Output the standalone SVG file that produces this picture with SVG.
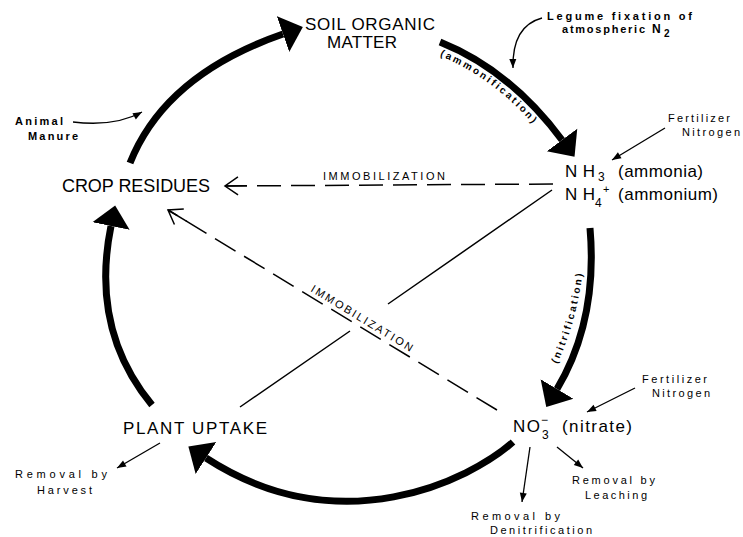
<svg xmlns="http://www.w3.org/2000/svg" width="743" height="537" viewBox="0 0 743 537">
<defs>
<style>
text { font-family: "Liberation Sans", Arial, sans-serif; fill: #000; }
.big { font-size: 17px; }
.sub { font-size: 12px; }
.sm { font-size: 11px; }
.smb { font-size: 11px; font-weight: bold; }
.im { font-size: 11px; }
.arclbl { font-size: 10px; font-weight: bold; }
.arc { fill: none; stroke: #000; stroke-width: 7; marker-end: url(#bigHead); }
.dash { fill: none; stroke: #000; stroke-width: 1.5; stroke-dasharray: 24 10; marker-end: url(#openHead); }
.thin { fill: none; stroke: #000; stroke-width: 1.3; marker-end: url(#smallHead); }
.solid { fill: none; stroke: #000; stroke-width: 1.5; }
</style>
<marker id="bigHead" markerUnits="userSpaceOnUse" viewBox="0 -20 24 40" markerWidth="24" markerHeight="40" refX="0" refY="0" orient="auto"><path d="M0,-19 L21,0 L0,19 Z" fill="#000"/></marker>
<marker id="openHead" markerUnits="userSpaceOnUse" viewBox="-24 -12 26 24" markerWidth="26" markerHeight="24" refX="0" refY="0" orient="auto"><path d="M-13,-9 L0,0 L-13,9 M0,0 L-22,0" fill="none" stroke="#000" stroke-width="1.5"/></marker>
<marker id="smallHead" markerUnits="userSpaceOnUse" viewBox="-10 -5 11 10" markerWidth="11" markerHeight="10" refX="0" refY="0" orient="auto"><path d="M-9,-3.5 L0,0 L-9,3.5 Z" fill="#000"/></marker>
<path id="ammPath" d="M435,54 Q503,80 552,148"/>
<path id="nitPath" d="M557,364 Q579,318 584,258"/>
</defs>

<g id="connectors">
  <path class="arc" d="M130,163 Q165,75 283,34"/>
  <path class="arc" d="M440,42 Q510,70 562,140"/>
  <path class="arc" d="M590,228 Q598,320 557,389"/>
  <path class="arc" d="M513,442 C470,480 340,545 206,458"/>
  <path class="arc" d="M152,405 Q90,330 111,226"/>
  <path class="dash" d="M553,184 L225,186"/>
  <path class="dash" d="M497,410 L168,210"/>
  <path class="solid" d="M552,190 L388,304 M350,331 L240,407"/>
  <text class="arclbl"><textPath href="#ammPath" startOffset="5" textLength="116" lengthAdjust="spacing">(ammonification)</textPath></text>
  <text class="arclbl"><textPath href="#nitPath" startOffset="0" textLength="94" lengthAdjust="spacing">(nitrification)</textPath></text>
  <text class="im" x="323" y="180" textLength="122" lengthAdjust="spacing">IMMOBILIZATION</text>
  <text class="im" transform="translate(310,291) rotate(31.3)" x="0" y="0" textLength="117" lengthAdjust="spacing">IMMOBILIZATION</text>
  <path class="thin" d="M73,122 Q115,127 142,112"/>
  <path class="thin" d="M542,18 Q512,26 513,68"/>
  <path class="thin" d="M665,128 L612,160"/>
  <path class="thin" d="M635,388 L587,412"/>
  <path class="thin" d="M557,447 L583,468"/>
  <path class="thin" d="M530,447 L522,502"/>
  <path class="thin" d="M160,443 L117,468"/>
</g>

<g id="soil-organic-matter">
  <text class="big" x="305" y="30" textLength="130" lengthAdjust="spacing">SOIL ORGANIC</text>
  <text class="big" x="327" y="48" textLength="70" lengthAdjust="spacing">MATTER</text>
</g>

<g id="ammonia">
  <text class="big" x="565" y="177" textLength="30" lengthAdjust="spacing">NH</text>
  <text class="sub" x="598" y="181">3</text>
  <text class="big" x="618" y="177" textLength="85" lengthAdjust="spacing">(ammonia)</text>
  <text class="big" x="565" y="200" textLength="30" lengthAdjust="spacing">NH</text>
  <text class="sub" x="595" y="207">4</text>
  <text class="sub" style="font-size:11px" x="603" y="193">+</text>
  <text class="big" x="618" y="200" textLength="100" lengthAdjust="spacing">(ammonium)</text>
</g>

<g id="nitrate">
  <text class="big" x="513" y="432" textLength="27" lengthAdjust="spacing">NO</text>
  <text class="sub" x="542" y="439">3</text>
  <text class="sub" x="541" y="424">−</text>
  <text class="big" x="562" y="432" textLength="70" lengthAdjust="spacing">(nitrate)</text>
</g>

<g id="plant-uptake">
  <text class="big" x="123" y="434" textLength="144" lengthAdjust="spacing">PLANT UPTAKE</text>
</g>

<g id="crop-residues">
  <text class="big" style="font-size:18px" x="62" y="192" textLength="148" lengthAdjust="spacing">CROP RESIDUES</text>
</g>

<g id="animal-manure">
  <text class="smb" x="15" y="125" textLength="48" lengthAdjust="spacing">Animal</text>
  <text class="smb" x="28" y="140" textLength="50" lengthAdjust="spacing">Manure</text>
</g>

<g id="legume-fixation">
  <text class="smb" x="547" y="20" textLength="145" lengthAdjust="spacing">Legume fixation of</text>
  <text class="smb" x="562" y="33" textLength="83" lengthAdjust="spacing">atmospheric</text>
  <text class="smb" style="font-size:12px" x="652" y="33">N</text>
  <text class="smb" style="font-size:10px" x="664" y="37">2</text>
</g>

<g id="fertilizer-ammonium">
  <text class="sm" x="668" y="122" textLength="62" lengthAdjust="spacing">Fertilizer</text>
  <text class="sm" x="682" y="136" textLength="58" lengthAdjust="spacing">Nitrogen</text>
</g>

<g id="fertilizer-nitrate">
  <text class="sm" x="642" y="383" textLength="65" lengthAdjust="spacing">Fertilizer</text>
  <text class="sm" x="652" y="397" textLength="58" lengthAdjust="spacing">Nitrogen</text>
</g>

<g id="removal-leaching">
  <text class="sm" x="572" y="484" textLength="83" lengthAdjust="spacing">Removal by</text>
  <text class="sm" x="585" y="499" textLength="62" lengthAdjust="spacing">Leaching</text>
</g>

<g id="removal-denitrification">
  <text class="sm" x="471" y="520" textLength="89" lengthAdjust="spacing">Removal by</text>
  <text class="sm" x="490" y="534" textLength="102" lengthAdjust="spacing">Denitrification</text>
</g>

<g id="removal-harvest">
  <text class="sm" x="15" y="478" textLength="92" lengthAdjust="spacing">Removal by</text>
  <text class="sm" x="37" y="494" textLength="55" lengthAdjust="spacing">Harvest</text>
</g>
</svg>
